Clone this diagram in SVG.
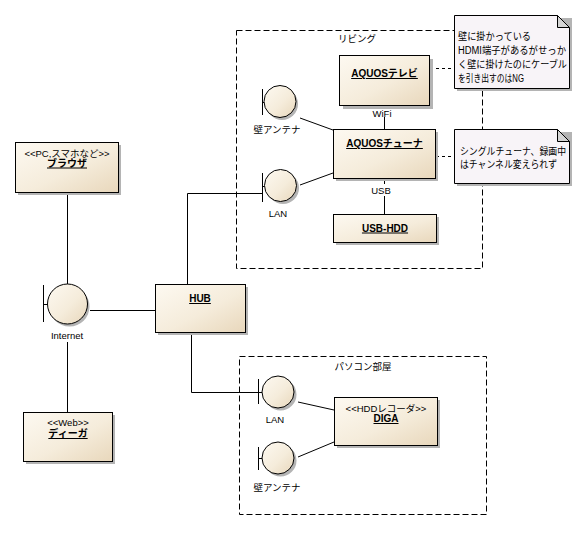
<svg xmlns="http://www.w3.org/2000/svg" width="584" height="539" viewBox="0 0 584 539">
<style>
text{font-family:"Liberation Sans","Noto Sans CJK JP",sans-serif;font-size:9.5px;fill:#000;text-anchor:middle}
.nm{font-weight:bold;font-size:10px;text-decoration:underline}
.nt{font-size:10px;text-anchor:start}
.box{fill:url(#g);stroke:#000;stroke-width:1}
.sh{fill:#b4b4b4}
.note{fill:#f8f4f8;stroke:#000;stroke-width:1}
.fold{fill:#d4d4d4;stroke:#000;stroke-width:1}
.bnd{fill:none;stroke:#000;stroke-width:1;stroke-dasharray:6,3}
.ln{fill:none;stroke:#000;stroke-width:1}
.dl{fill:none;stroke:#000;stroke-width:1;stroke-dasharray:3,3}
</style>
<defs>
<linearGradient id="g" x1="0" y1="0" x2="1" y2="1">
<stop offset="0" stop-color="#fdf9f1"/>
<stop offset="0.55" stop-color="#f5ecdb"/>
<stop offset="1" stop-color="#e8d7bb"/>
</linearGradient>
</defs>
<rect width="584" height="539" fill="#fff"/>

<g id="living">
<rect class="bnd" x="236.5" y="30.5" width="246" height="238"/>
<text x="357" y="42">リビング</text>
</g>
<g id="pcroom">
<rect class="bnd" x="239.5" y="356.5" width="247" height="158"/>
<text x="363" y="369.5">パソコン部屋</text>
</g>

<g id="connectors">
<line class="ln" x1="384.5" y1="117" x2="384.5" y2="129"/>
<line class="ln" x1="384.5" y1="178" x2="384.5" y2="184"/>
<line class="ln" x1="384.5" y1="196" x2="384.5" y2="214"/>
<line class="ln" x1="300" y1="118" x2="333" y2="130"/>
<line class="ln" x1="300" y1="185" x2="333" y2="173"/>
<polyline class="ln" points="187.5,284 187.5,193.5 262,193.5"/>
<line class="ln" x1="67.5" y1="192" x2="67.5" y2="284"/>
<line class="ln" x1="90" y1="310.5" x2="155" y2="310.5"/>
<line class="ln" x1="67.5" y1="342" x2="67.5" y2="412"/>
<polyline class="ln" points="191.5,332 191.5,392.5 258,392.5"/>
<line class="ln" x1="298" y1="402" x2="334" y2="410"/>
<line class="ln" x1="298" y1="457" x2="334" y2="442"/>
<line class="dl" x1="430" y1="68.5" x2="454" y2="68.5"/>
<line class="dl" x1="436" y1="156.5" x2="454" y2="156.5"/>
</g>
<text x="382" y="116.5">WiFi</text>
<text x="381" y="193.5">USB</text>

<g id="tv">
<rect class="sh" x="343" y="59" width="90" height="50"/>
<rect class="box" x="339.5" y="55.5" width="90" height="50"/>
<text class="nm" x="384.5" y="77">AQUOSテレビ</text>
</g>
<g id="tuner">
<rect class="sh" x="336" y="132" width="102" height="49"/>
<rect class="box" x="333.5" y="129.5" width="102" height="49"/>
<text class="nm" x="384.5" y="147">AQUOSチューナ</text>
</g>
<g id="usbhdd">
<rect class="sh" x="336" y="217" width="103" height="28"/>
<rect class="box" x="333.5" y="214.5" width="103" height="28"/>
<text class="nm" x="385" y="231.5">USB-HDD</text>
</g>

<g id="antenna1">
<circle class="sh" cx="282" cy="104" r="16"/>
<circle class="box" cx="280" cy="101.5" r="16"/>
<line class="ln" x1="262.5" y1="89" x2="262.5" y2="115"/>
<line class="ln" x1="262.5" y1="102.5" x2="264" y2="102.5"/>
<text x="277" y="133">壁アンテナ</text>
</g>
<g id="lan1">
<circle class="sh" cx="283" cy="188" r="16"/>
<circle class="box" cx="280.5" cy="185.5" r="16"/>
<line class="ln" x1="262.5" y1="173" x2="262.5" y2="202"/>
<line class="ln" x1="262.5" y1="186.5" x2="264.5" y2="186.5"/>
<text x="278" y="216.5">LAN</text>
</g>

<g id="browser">
<rect class="sh" x="18" y="145" width="103" height="50"/>
<rect class="box" x="15.5" y="142.5" width="103" height="50"/>
<text x="67" y="156.5">&lt;&lt;PC,スマホなど&gt;&gt;</text>
<text class="nm" x="67" y="166.5">ブラウザ</text>
</g>
<g id="internet">
<circle class="sh" cx="69.5" cy="306.5" r="20"/>
<circle class="box" cx="67.5" cy="304" r="20"/>
<line class="ln" x1="43.5" y1="285" x2="43.5" y2="322"/>
<line class="ln" x1="43.5" y1="304.5" x2="47.5" y2="304.5"/>
<text x="67" y="338.5">Internet</text>
</g>
<g id="hub">
<rect class="sh" x="158" y="287" width="90" height="48"/>
<rect class="box" x="155.5" y="284.5" width="90" height="48"/>
<text class="nm" x="200" y="302">HUB</text>
</g>
<g id="diga-web">
<rect class="sh" x="26" y="415" width="89" height="49"/>
<rect class="box" x="23.5" y="412.5" width="89" height="49"/>
<text x="68" y="425.5">&lt;&lt;Web&gt;&gt;</text>
<text class="nm" x="68" y="437">ディーガ</text>
</g>

<g id="lan2">
<circle class="sh" cx="280.5" cy="394.5" r="16"/>
<circle class="box" cx="278" cy="392" r="16"/>
<line class="ln" x1="258.5" y1="379" x2="258.5" y2="404"/>
<line class="ln" x1="258.5" y1="392.5" x2="262" y2="392.5"/>
<text x="275" y="423">LAN</text>
</g>
<g id="antenna2">
<circle class="sh" cx="280.5" cy="460.5" r="16"/>
<circle class="box" cx="278" cy="458" r="16"/>
<line class="ln" x1="258.5" y1="447" x2="258.5" y2="470"/>
<line class="ln" x1="258.5" y1="458.5" x2="262" y2="458.5"/>
<text x="277" y="490.5">壁アンテナ</text>
</g>
<g id="diga">
<rect class="sh" x="337" y="400" width="103" height="48"/>
<rect class="box" x="334.5" y="397.5" width="103" height="48"/>
<text x="386" y="411.5">&lt;&lt;HDDレコーダ&gt;&gt;</text>
<text class="nm" x="386" y="422">DIGA</text>
</g>

<g id="note1">
<rect class="sh" x="457" y="18" width="115" height="73"/>
<path class="note" d="M454.5,15.5 H557.5 L569.5,27.5 V88.5 H454.5 Z"/>
<path class="fold" d="M557.5,15.5 V27.5 H569.5 Z"/>
<text class="nt" x="458" y="40" textLength="73" lengthAdjust="spacingAndGlyphs">壁に掛かっている</text>
<text class="nt" x="458" y="54" textLength="108" lengthAdjust="spacingAndGlyphs">HDMI端子があるがせっか</text>
<text class="nt" x="458" y="68" textLength="109" lengthAdjust="spacingAndGlyphs">く壁に掛けたのにケーブル</text>
<text class="nt" x="458" y="82" textLength="66" lengthAdjust="spacingAndGlyphs">を引き出すのはNG</text>
</g>
<g id="note2">
<rect class="sh" x="457" y="132" width="115" height="54"/>
<path class="note" d="M454.5,129.5 H557.5 L569.5,141.5 V183.5 H454.5 Z"/>
<path class="fold" d="M557.5,129.5 V141.5 H569.5 Z"/>
<text class="nt" x="460" y="154.5" textLength="106" lengthAdjust="spacingAndGlyphs">シングルチューナ、録画中</text>
<text class="nt" x="460" y="168" textLength="97" lengthAdjust="spacingAndGlyphs">はチャンネル変えられず</text>
</g>
</svg>
